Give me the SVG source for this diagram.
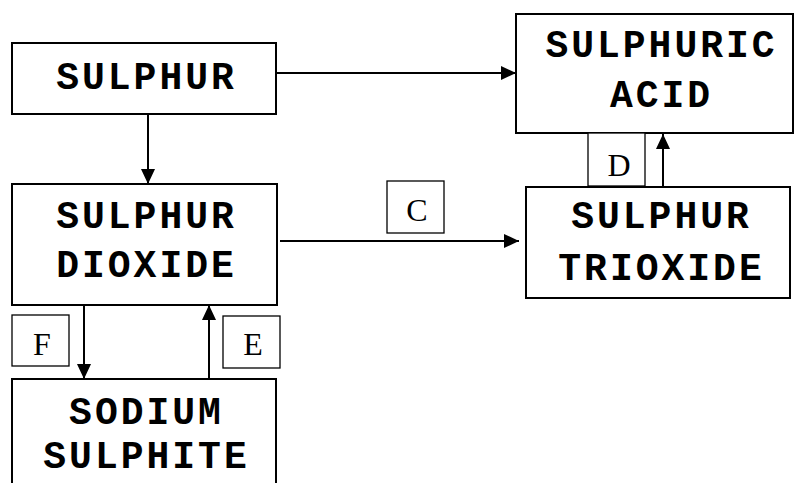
<svg xmlns="http://www.w3.org/2000/svg" width="794" height="483" viewBox="0 0 794 483">
<style>
.box{fill:#fff;stroke:#000;stroke-width:2}
.lbl{fill:#fff;stroke:#000;stroke-width:1.3}
.t{font-family:"Liberation Mono","Courier New",monospace;font-weight:bold;font-size:38px;letter-spacing:3px;text-anchor:middle;fill:#000}
.l{font-family:"Liberation Serif","Times New Roman",serif;font-size:32px;text-anchor:middle;fill:#000}
.c{stroke:#000;stroke-width:2;fill:none;marker-end:url(#ah)}
</style>
<defs>
<marker id="ah" markerUnits="userSpaceOnUse" markerWidth="16" markerHeight="14" refX="15" refY="7" orient="auto">
<path d="M0,0 L15,7 L0,14 Z" fill="#000"/>
</marker>
</defs>
<rect width="794" height="483" fill="#fff"/>
<g id="connectors">
<line class="c" x1="276" y1="73" x2="516" y2="73"/>
<line class="c" x1="148" y1="114" x2="148" y2="184"/>
<line class="c" x1="280" y1="241" x2="519" y2="241"/>
<line class="c" x1="663" y1="187" x2="663" y2="134"/>
<line class="c" x1="84" y1="305" x2="84" y2="379"/>
<line class="c" x1="209" y1="379" x2="209" y2="305"/>
</g>
<g id="sulphur">
<rect class="box" x="12" y="43" width="264" height="71"/>
<text class="t" x="146.5" y="89">SULPHUR</text>
</g>
<g id="sulphuric-acid">
<rect class="box" x="516" y="14" width="277" height="119"/>
<text class="t" x="661.5" y="57">SULPHURIC</text>
<text class="t" x="661.5" y="107">ACID</text>
</g>
<g id="sulphur-dioxide">
<rect class="box" x="12" y="184" width="265" height="121"/>
<text class="t" x="146.5" y="228">SULPHUR</text>
<text class="t" x="146.5" y="277">DIOXIDE</text>
</g>
<g id="sulphur-trioxide">
<rect class="box" x="526" y="187" width="264" height="111"/>
<text class="t" x="661.5" y="228">SULPHUR</text>
<text class="t" x="661.5" y="280">TRIOXIDE</text>
</g>
<g id="sodium-sulphite">
<rect class="box" x="12" y="379" width="264" height="115"/>
<text class="t" x="146.5" y="424">SODIUM</text>
<text class="t" x="146.5" y="468">SULPHITE</text>
</g>
<g id="label-c">
<rect class="lbl" x="387" y="181" width="57" height="52"/>
<text class="l" x="417" y="221">C</text>
</g>
<g id="label-d">
<rect class="lbl" x="588" y="133" width="57" height="53"/>
<text class="l" x="619" y="176">D</text>
</g>
<g id="label-f">
<rect class="lbl" x="12" y="315" width="57" height="51"/>
<text class="l" x="42" y="355">F</text>
</g>
<g id="label-e">
<rect class="lbl" x="223" y="316" width="57" height="52"/>
<text class="l" x="253" y="355">E</text>
</g>
</svg>
